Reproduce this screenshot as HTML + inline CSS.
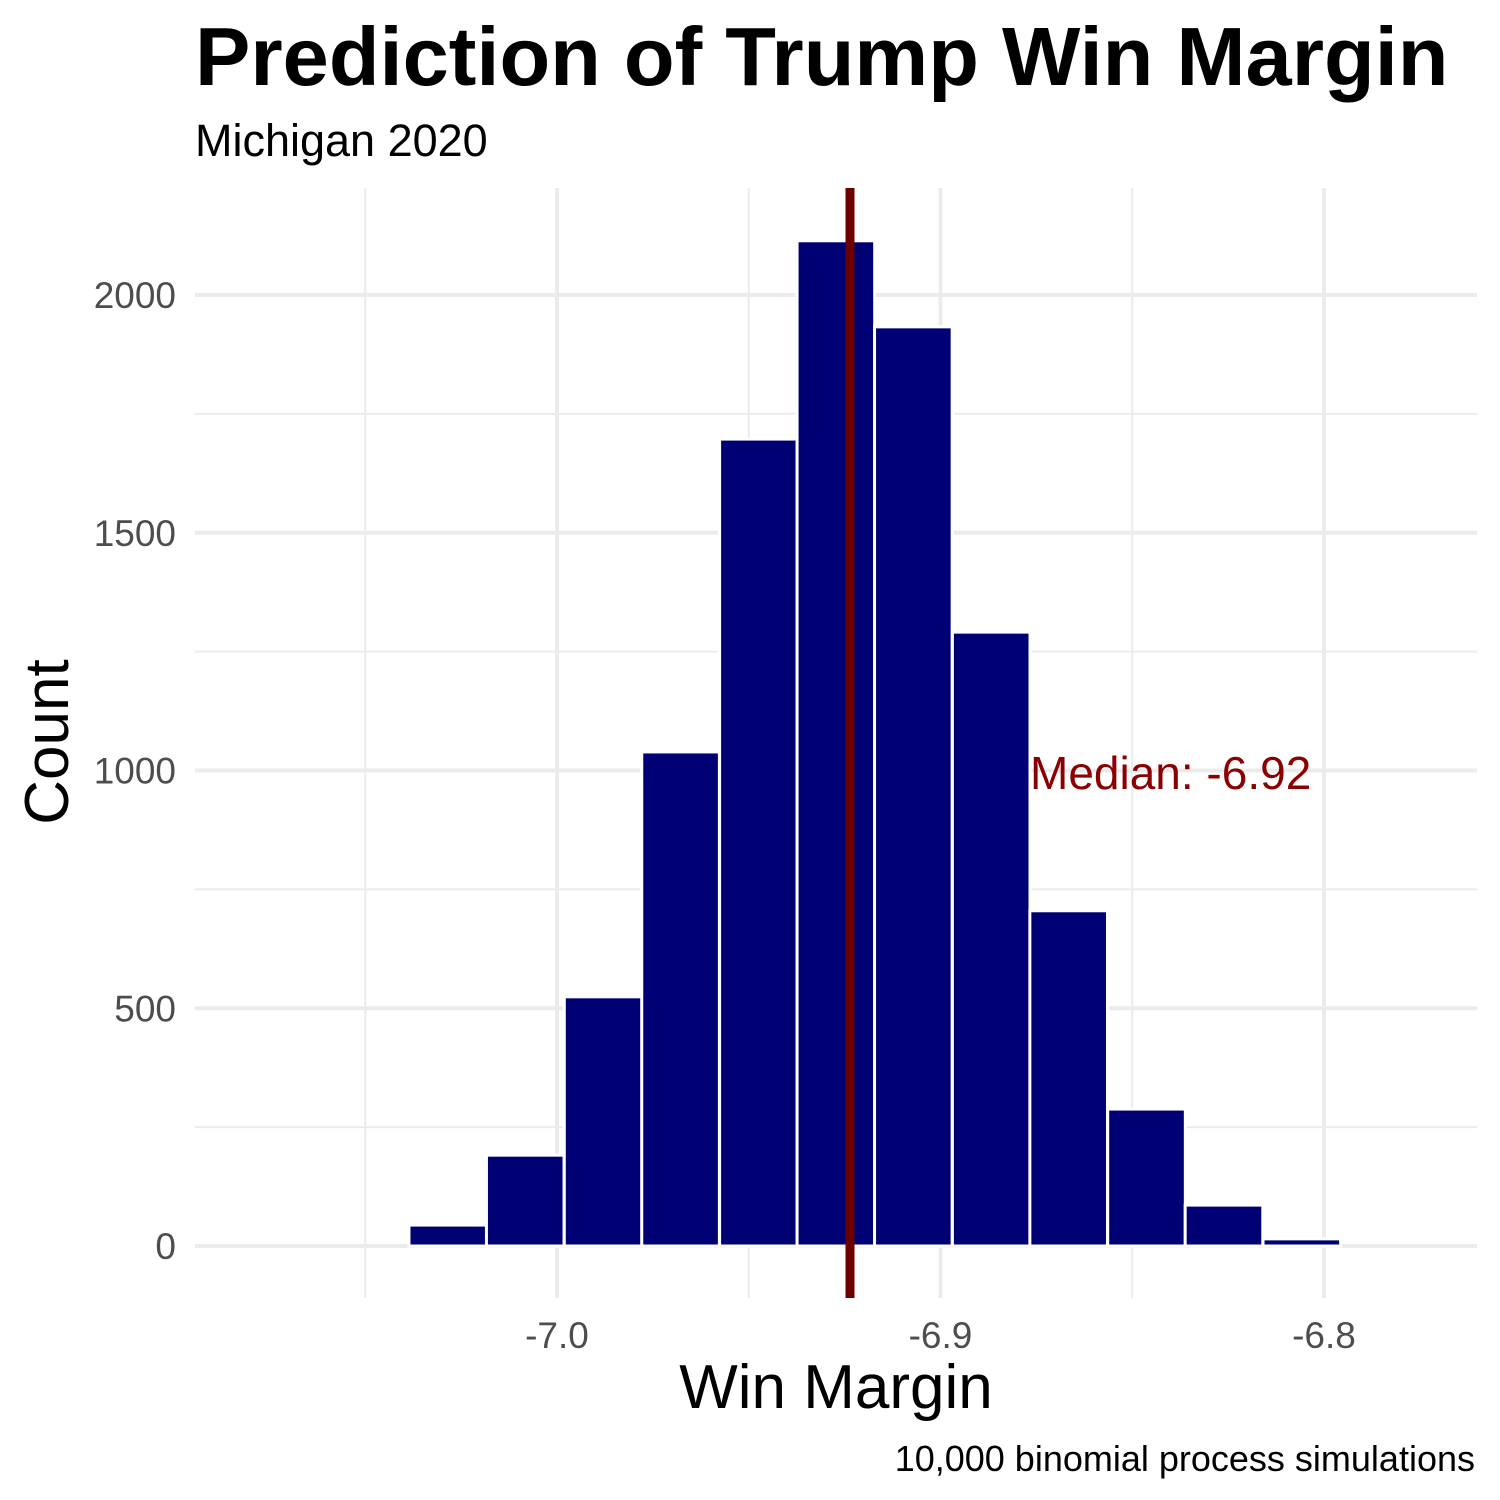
<!DOCTYPE html>
<html><head><meta charset="utf-8"><style>
body{margin:0;background:#fff;}
svg{display:block;font-family:"Liberation Sans",Arial,sans-serif;}
</style></head><body>
<svg id="chart" width="1500" height="1500" viewBox="0 0 1500 1500">
<text x="195" y="85" font-size="83" font-weight="bold" fill="#000">Prediction of Trump Win Margin</text>
<text x="195" y="156" font-size="45" fill="#000">Michigan 2020</text>
<g id="grid"></g>
<g id="bars"></g>
<g id="median"></g>
<g id="ticks"></g>
<text transform="translate(68,742) rotate(-90)" text-anchor="middle" font-size="62" fill="#000">Count</text>
<text x="836" y="1408" text-anchor="middle" font-size="62" fill="#000">Win Margin</text>
<text x="1475" y="1471" text-anchor="end" font-size="36" fill="#000">10,000 binomial process simulations</text>
</svg>
<script>
const binStarts=[-7.0791,-7.0589,-7.0386,-7.0184,-6.9981,-6.9779,-6.9576,-6.9374,-6.9172,-6.8969,-6.8767,-6.8564,-6.8362,-6.8159,-6.7957];
const counts=[0,0,44,191,524,1039,1697,2114,1933,1291,705,288,86,15,0];
const binWidth=0.02024;
const medianValue=-6.9236;
const medianLabel="Median: -6.92";
const xTicks=[-7.0,-6.9,-6.8];
const xTickLabels=["-7.0","-6.9","-6.8"];
const xMinor=[-7.05,-6.95,-6.85];
const yTicks=[0,500,1000,1500,2000];
const yMinor=[250,750,1250,1750];

const NS="http://www.w3.org/2000/svg";
const X=v=>557+(v+7.0)*3835;
const Y=v=>1246-v*0.4755;
const L=195,R=1477,T=188,B=1298;
function mk(tag,attrs,parent){const e=document.createElementNS(NS,tag);for(const k in attrs)e.setAttribute(k,attrs[k]);parent.appendChild(e);return e;}
const grid=document.getElementById('grid'),bars=document.getElementById('bars'),med=document.getElementById('median'),ticks=document.getElementById('ticks');
yMinor.forEach(v=>{const l=mk('line',{x1:L,x2:R,y1:Y(v),y2:Y(v),stroke:'#ebebeb','stroke-width':2},grid);

});
xMinor.forEach(v=>{const l=mk('line',{x1:X(v),x2:X(v),y1:T,y2:B,stroke:'#ebebeb','stroke-width':2},grid);

});
yTicks.forEach(v=>{const l=mk('line',{x1:L,x2:R,y1:Y(v),y2:Y(v),stroke:'#ebebeb','stroke-width':4},grid);


const t=mk('text',{x:176,y:Y(v)+13,'text-anchor':'end','font-size':37,fill:'#4d4d4d'},ticks);t.textContent=String(v);

});
xTicks.forEach((v,i)=>{const l=mk('line',{x1:X(v),x2:X(v),y1:T,y2:B,stroke:'#ebebeb','stroke-width':4},grid);


const t=mk('text',{x:X(v),y:1348,'text-anchor':'middle','font-size':37,fill:'#4d4d4d'},ticks);t.textContent=xTickLabels[i];

});
binStarts.forEach((s,i)=>{const x0=X(s),x1=X(s+binWidth);const y=Y(counts[i]);
const r=mk('rect',{x:x0,y:y,width:x1-x0,height:Math.max(0,Y(0)-y),fill:'#000075',stroke:'#fff','stroke-width':3},bars);

});
const ml=mk('line',{x1:X(medianValue),x2:X(medianValue),y1:T,y2:B,stroke:'#6b0000','stroke-width':9},med);


const mt=mk('text',{x:1030,y:789,'font-size':46,fill:'#8b0000'},med);mt.textContent=medianLabel;


</script>
</body></html>
